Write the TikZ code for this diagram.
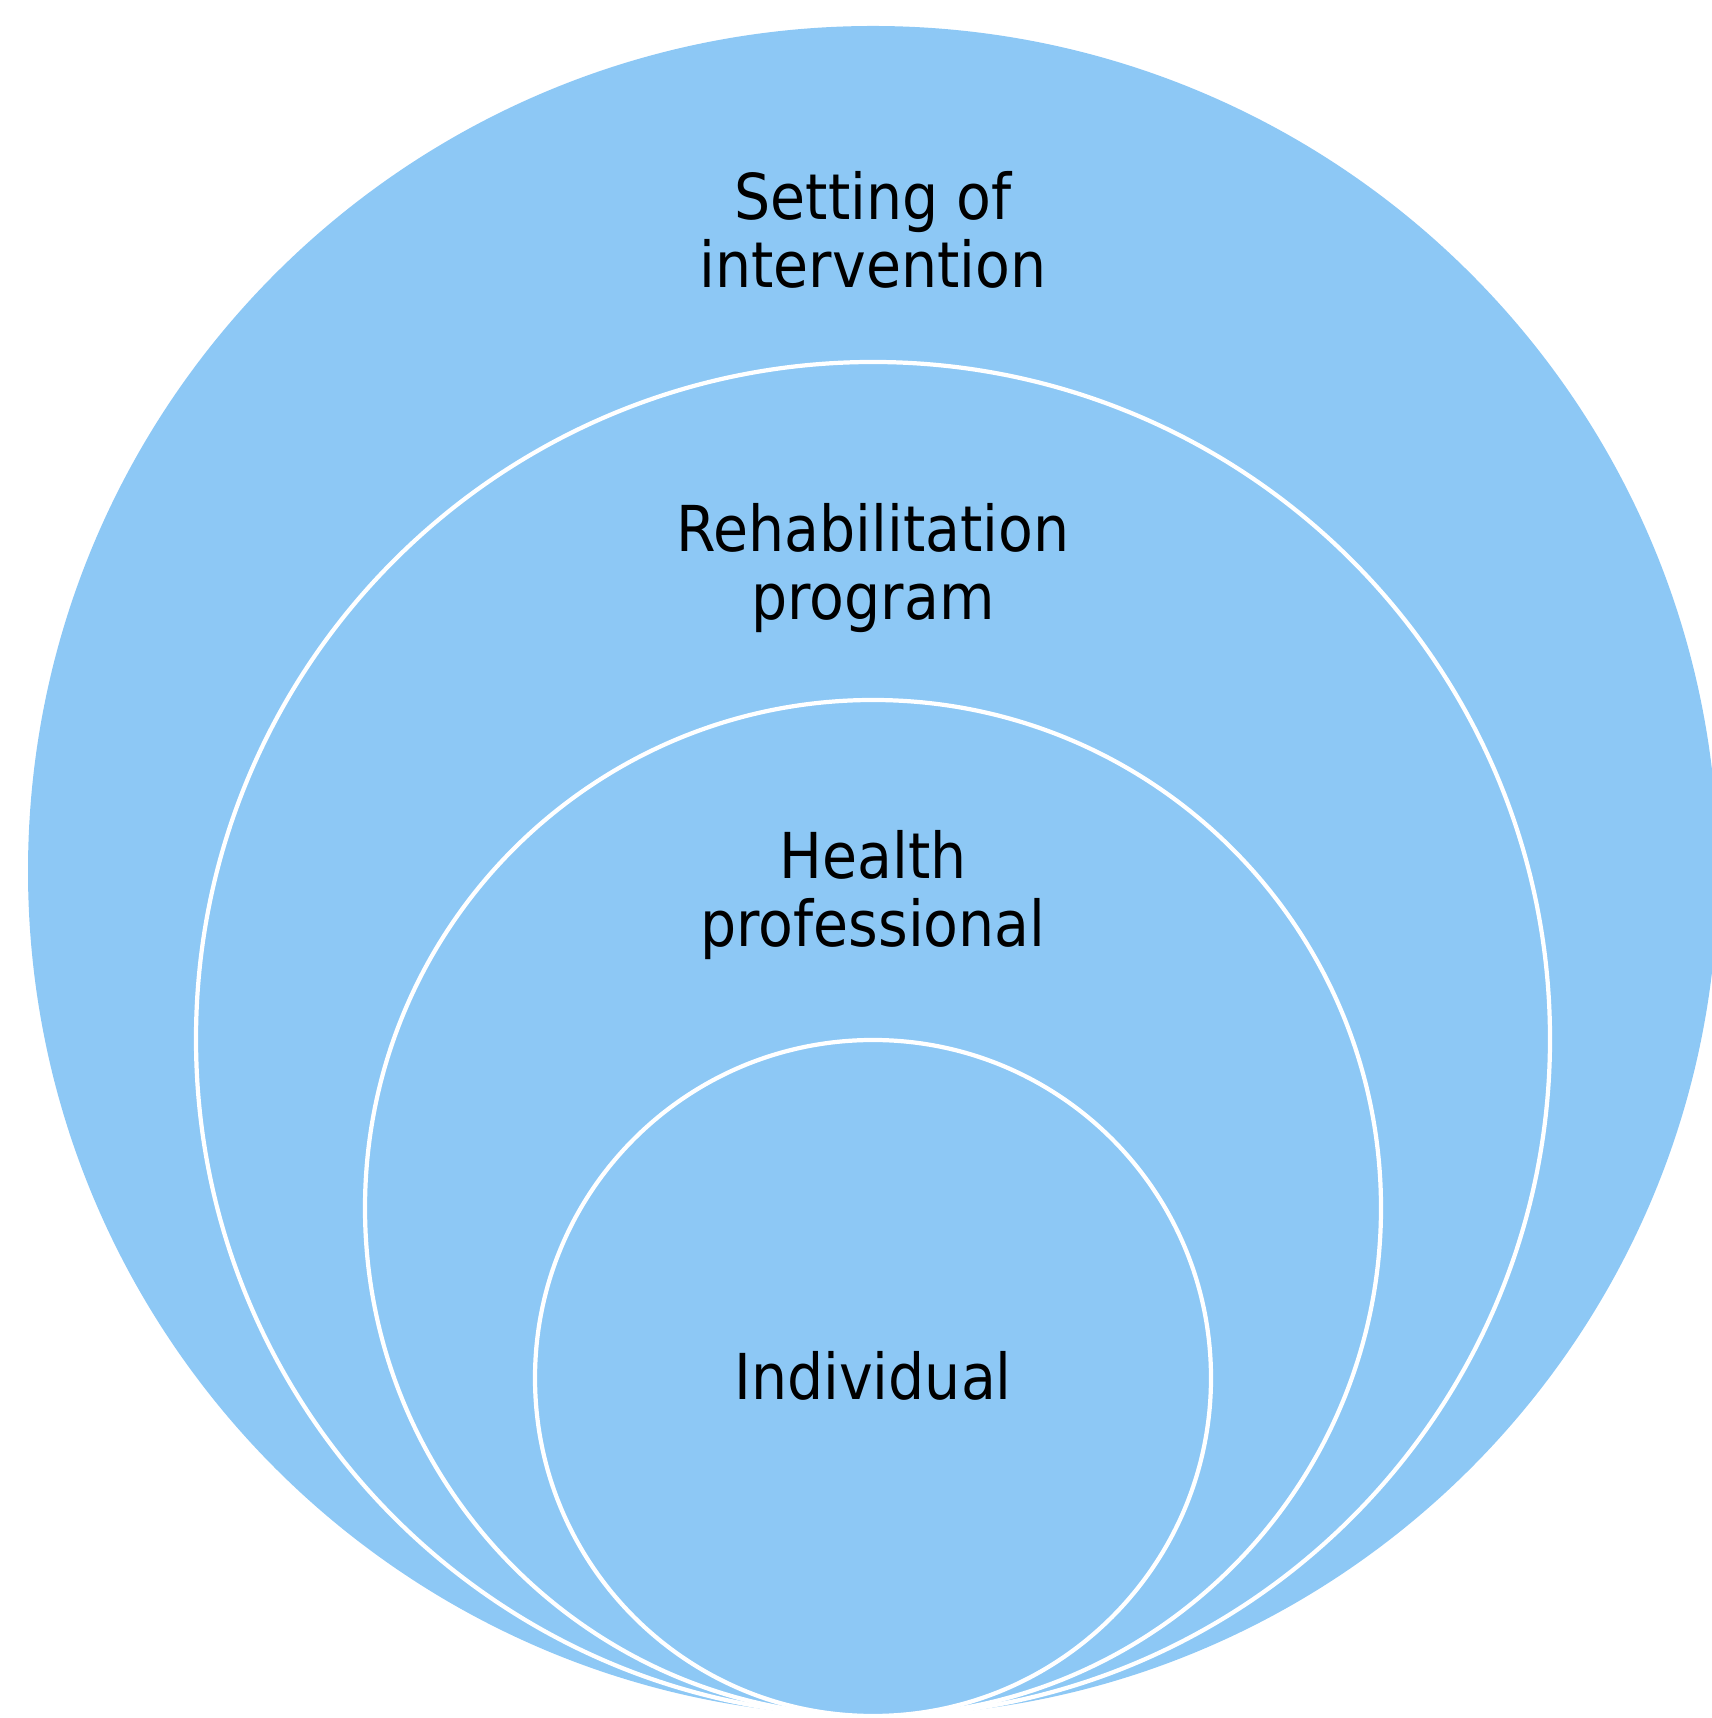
\documentclass[tikz,border=0pt]{standalone}
\usepackage{fontspec}
\setmainfont{DejaVu Sans}[FakeStretch=0.9]
\usepackage{tikz}
\usepackage{xcolor}

\definecolor{ringblue}{RGB}{141,200,245}

\tikzset{
	ring/.style={fill=ringblue, draw=white, line width=1.2pt},
	ringlabel/.style={font=\fontsize{18}{19.4}\selectfont, align=center, anchor=base, inner sep=0pt}
}

\begin{document}
\begin{tikzpicture}[x=0.01cm, y=0.01cm]
	\useasboundingbox (0,0) rectangle (1712,1718);
	% kreise, alle unten beruehrend
	\fill[ringblue] (873,847) circle (845);
	\draw[ring] (873,679) circle (677);
	\draw[ring] (873,510) circle (508);
	\draw[ring] (873,340) circle (338);
	% beschriftungen von aussen nach innen (base = letzte zeile)
	\node[ringlabel] (setting) at (873,1430) {Setting of\\intervention};
	\node[ringlabel] (program) at (873,1098) {Rehabilitation\\program};
	\node[ringlabel] (health) at (873,771) {Health\\professional};
	\node[ringlabel] (individual) at (873,318) {Individual};
\end{tikzpicture}
\end{document}
